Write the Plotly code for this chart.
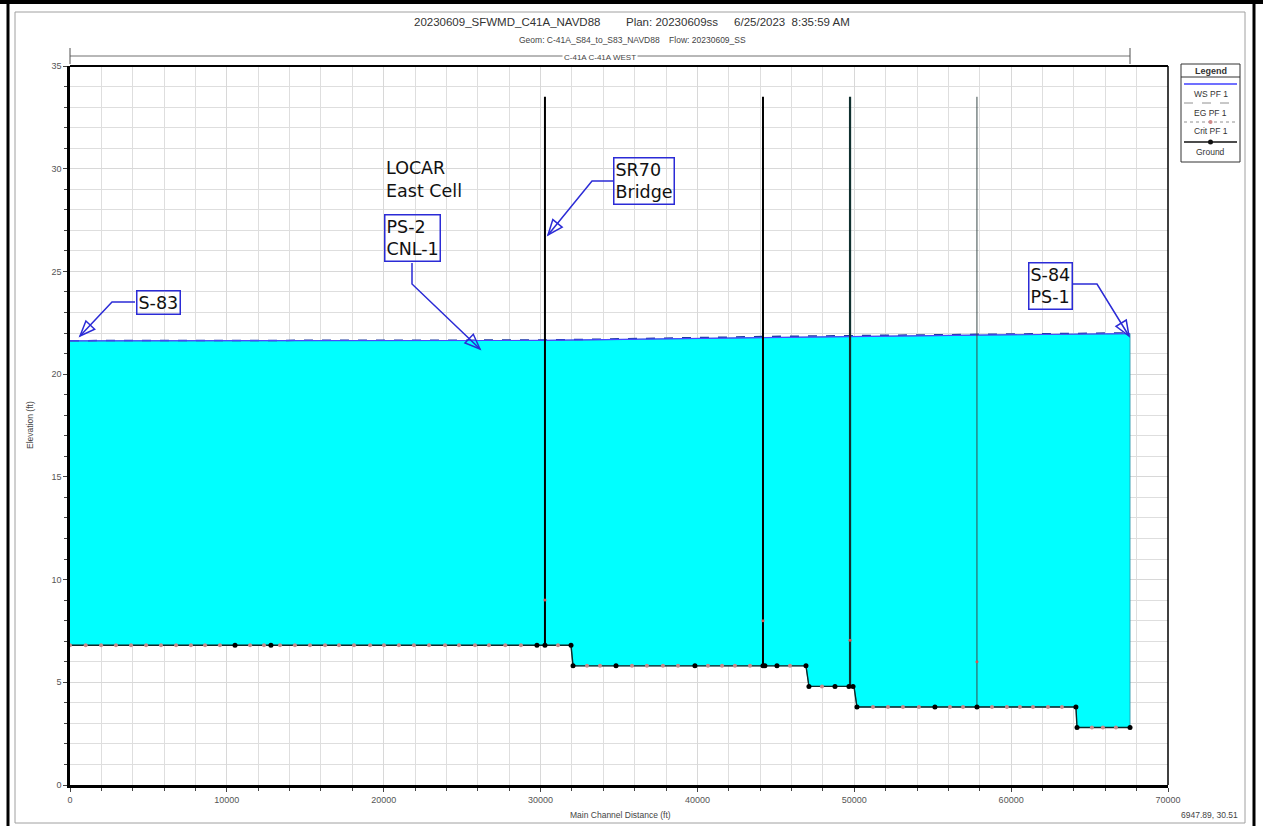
import plotly.graph_objects as go

# ---------------- data ----------------
x_ticks = [0, 10000, 20000, 30000, 40000, 50000, 60000, 70000]
y_ticks = [0, 5, 10, 15, 20, 25, 30, 35]

ws_station = [0, 30280, 44180, 49730, 57820, 67580]
ws_elev = [21.62, 21.64, 21.78, 21.84, 21.90, 21.97]
eg_elev = [21.63, 21.66, 21.83, 21.88, 21.94, 22.01]

ground_station = [0, 31940, 32070, 46920, 47110, 49980, 50170, 64130, 64200, 67580]
ground_elev = [6.8, 6.8, 5.8, 5.8, 4.8, 4.8, 3.8, 3.8, 2.8, 2.8]

xs_station = [10520, 12810, 29770, 30280, 31940,
              32070, 34810, 39840, 44180, 44300, 45070, 46920,
              47110, 48770, 49660, 49920,
              50170, 55140, 57820, 64130,
              64200, 67580]
xs_elev = [6.8, 6.8, 6.8, 6.8, 6.8,
           5.8, 5.8, 5.8, 5.8, 5.8, 5.8, 5.8,
           4.8, 4.8, 4.8, 4.8,
           3.8, 3.8, 3.8, 3.8,
           2.8, 2.8]

crit_levels = [6.8, 5.8, 4.8, 3.8, 2.8]
crit_x_68 = [0, 1000, 1980, 2930, 3890, 4850, 5800, 6760, 7710, 8610, 9560, 11480,
             12370, 13390, 14340, 15300, 16260, 17150, 18110, 19130, 20020, 20970,
             21930, 22890, 23910, 24800, 25820, 26710, 27750, 28750, 31110]
crit_x_58 = [32960, 33790, 35830, 36780, 37800, 38760, 40670, 41570, 42390, 43350, 45900]
crit_x_48 = [47940]
crit_x_38 = [51190, 52150, 53100, 54120, 56100, 56930, 58780, 59730, 60560, 61390, 62350, 63240]
crit_x_28 = [65150, 65850, 66680]

struct_station = [30280, 44180, 49730, 57820]
struct_base = [6.8, 5.8, 4.8, 3.8]
struct_top = [33.5, 33.5, 33.5, 33.5]
struct_mark = [9.0, 8.0, 7.05, 6.0]

# ---------------- layout helpers (pixel -> paper) ----------------
W, H = 1263, 826
L, R, T, B = 70, 1168, 66, 785


def PX(px):
    return (px - L) / (R - L)


def PY(py):
    return (B - py) / (B - T)


BLUE = "#2b2bd6"
FONT = "Liberation Sans"
CALL_FONT = "DejaVu Sans"

fig = go.Figure()

# water fill
fig.add_trace(go.Scatter(
    x=ws_station + ground_station[::-1],
    y=ws_elev + ground_elev[::-1],
    mode="lines", fill="toself", fillcolor="#00ffff",
    line=dict(color="#2a8fa8", width=0.8), hoverinfo="skip", showlegend=False))

# EG line
fig.add_trace(go.Scatter(x=ws_station, y=eg_elev, mode="lines",
                         line=dict(color="#1f3a9e", width=1.5, dash="dash"),
                         showlegend=False))
# WS line
fig.add_trace(go.Scatter(x=ws_station, y=ws_elev, mode="lines",
                         line=dict(color="#4a4aff", width=1.2), showlegend=False))

# structures
st_colors = ["#000000", "#000000", "#10302f", "#3a4a4a"]
st_widths = [2.0, 2.0, 2.2, 1.0]
for i in range(len(struct_station)):
    fig.add_trace(go.Scatter(x=[struct_station[i], struct_station[i]],
                             y=[struct_base[i], struct_top[i]], mode="lines",
                             line=dict(color=st_colors[i], width=st_widths[i]),
                             showlegend=False))
fig.add_trace(go.Scatter(x=struct_station, y=struct_mark, mode="markers",
                         marker=dict(color="#e05050", size=3), showlegend=False))

# ground line
fig.add_trace(go.Scatter(x=ground_station, y=ground_elev, mode="lines",
                         line=dict(color="#0c2a2a", width=1.4), showlegend=False))

# crit markers
cx, cy = [], []
for lev, xs in zip(crit_levels, [crit_x_68, crit_x_58, crit_x_48, crit_x_38, crit_x_28]):
    cx += xs
    cy += [lev] * len(xs)
fig.add_trace(go.Scatter(x=cx, y=cy, mode="markers",
                         marker=dict(color="#c98a8a", size=4), showlegend=False))

# ground cross-section markers
fig.add_trace(go.Scatter(x=xs_station, y=xs_elev, mode="markers",
                         marker=dict(color="#000000", size=5, symbol="circle"),
                         showlegend=False))

shapes = []
annotations = []


def note(px, py, text, size, color="#333", family=FONT, xanchor="center", **kw):
    d = dict(xref="paper", yref="paper", x=PX(px), y=PY(py), text=text,
             showarrow=False, xanchor=xanchor, yanchor="middle",
             font=dict(family=family, size=size, color=color))
    d.update(kw)
    annotations.append(d)


# outer frames
shapes.append(dict(type="rect", xref="paper", yref="paper",
                   x0=PX(15), x1=PX(1245), y0=PY(823), y1=PY(12),
                   line=dict(color="#a0a0a0", width=1)))
shapes.append(dict(type="line", xref="paper", yref="paper",
                   x0=PX(8), x1=PX(8), y0=PY(826), y1=PY(0),
                   line=dict(color="black", width=3)))
shapes.append(dict(type="line", xref="paper", yref="paper",
                   x0=PX(0), x1=PX(1263), y0=PY(2), y1=PY(2),
                   line=dict(color="black", width=4)))
shapes.append(dict(type="line", xref="paper", yref="paper",
                   x0=PX(1254), x1=PX(1254), y0=PY(826), y1=PY(0),
                   line=dict(color="black", width=3)))

# plot frame top / right
shapes.append(dict(type="line", xref="paper", yref="paper", x0=0, x1=1, y0=1, y1=1,
                   line=dict(color="black", width=1.8)))
shapes.append(dict(type="line", xref="paper", yref="paper", x0=1, x1=1, y0=0, y1=1,
                   line=dict(color="black", width=1.5)))

# reach bar
shapes.append(dict(type="line", xref="paper", yref="paper",
                   x0=PX(70), x1=PX(1130), y0=PY(56), y1=PY(56),
                   line=dict(color="#707070", width=1)))
for ex in (70, 1130):
    shapes.append(dict(type="line", xref="paper", yref="paper",
                       x0=PX(ex), x1=PX(ex), y0=PY(48), y1=PY(64),
                       line=dict(color="#505050", width=1)))
note(600, 57, "C-41A C-41A WEST", 8, color="#444", bgcolor="white", borderpad=1)

# titles
nb = "\u00a0"
note(632, 22, "20230609_SFWMD_C41A_NAVD88" + nb * 8 + "Plan: 20230609ss" + nb * 5
     + "6/25/2023" + nb * 2 + "8:35:59 AM", 11.5)
note(632, 40, "Geom: C-41A_S84_to_S83_NAVD88" + nb * 4 + "Flow: 20230609_SS", 8.5, color="#444")

# axis titles & coordinates
note(620, 815, "Main Channel Distance (ft)", 8.5, color="#444")
note(30, 425, "Elevation (ft)", 8.5, color="#444", textangle=-90)
note(1240, 815, "6947.89, 30.51", 8.5, color="#444", xanchor="right")

# legend box
shapes.append(dict(type="rect", xref="paper", yref="paper",
                   x0=PX(1181), x1=PX(1240), y0=PY(162), y1=PY(64),
                   line=dict(color="#333", width=1)))
shapes.append(dict(type="line", xref="paper", yref="paper",
                   x0=PX(1181), x1=PX(1240), y0=PY(77), y1=PY(77),
                   line=dict(color="#333", width=1)))
note(1210.5, 71, "<b>Legend</b>", 9)
leg_items = [("WS PF 1", 84, 94, dict(color="#7070ff", width=2)),
             ("EG PF 1", 103, 113, dict(color="#909090", width=1, dash="dash")),
             ("Crit PF 1", 122, 131, dict(color="#909090", width=1, dash="dot")),
             ("Ground", 142, 152, dict(color="#111", width=1.5))]
for name, ly, ty, ls in leg_items:
    shapes.append(dict(type="line", xref="paper", yref="paper",
                       x0=PX(1184), x1=PX(1237), y0=PY(ly), y1=PY(ly), line=ls))
    note(1210.5, ty, name, 8.5)
shapes.append(dict(type="circle", xref="paper", yref="paper",
                   x0=PX(1208), x1=PX(1213), y0=PY(144.5), y1=PY(139.5),
                   fillcolor="#111", line=dict(color="#111", width=0)))
shapes.append(dict(type="circle", xref="paper", yref="paper",
                   x0=PX(1208.5), x1=PX(1212.5), y0=PY(124), y1=PY(120),
                   fillcolor="#d08a8a", line=dict(color="#d08a8a", width=0)))

# callouts
callouts = [
    ("S-83", (135, 290, 181, 315), [(135, 302), (112, 302), (80, 336)]),
    ("PS-2<br>CNL-1", (383, 213, 442, 263), [(412, 263), (412, 284), (480, 349)]),
    ("SR70<br>Bridge", (613, 156, 675, 205), [(613, 181), (592, 181), (548, 235)]),
    ("S-84<br>PS-1", (1027, 261, 1073, 310), [(1073, 284), (1097, 284), (1129, 336)]),
]
for text, (bx0, by0, bx1, by1), pts in callouts:
    note((bx0 + bx1) / 2, (by0 + by1) / 2, text, 17.5, color="#111", family=CALL_FONT,
         align="left", bordercolor=BLUE, borderwidth=1.5, borderpad=1,
         bgcolor="rgba(255,255,255,0)")
    path = "M " + " L ".join(f"{PX(x)},{PY(y)}" for x, y in pts)
    shapes.append(dict(type="path", xref="paper", yref="paper", path=path,
                       line=dict(color=BLUE, width=1.5)))
    (x1, y1), (x2, y2) = pts[-2], pts[-1]
    dx, dy = x2 - x1, y2 - y1
    n = (dx * dx + dy * dy) ** 0.5
    ux, uy = dx / n, dy / n
    ln, hw = 15, 6
    bx, by = x2 - ux * ln, y2 - uy * ln
    c1 = (bx - uy * hw, by + ux * hw)
    c2 = (bx + uy * hw, by - ux * hw)
    tri = f"M {PX(x2)},{PY(y2)} L {PX(c1[0])},{PY(c1[1])} L {PX(c2[0])},{PY(c2[1])} Z"
    shapes.append(dict(type="path", xref="paper", yref="paper", path=tri,
                       line=dict(color=BLUE, width=1.5), fillcolor="rgba(0,0,0,0)"))

# LOCAR label
note(384, 179, "LOCAR<br>East Cell", 17.5, color="#111", family=CALL_FONT,
     xanchor="left", align="left")

fig.update_layout(
    width=W, height=H,
    margin=dict(l=L, r=W - R, t=T, b=H - B),
    paper_bgcolor="white", plot_bgcolor="white",
    showlegend=False,
    shapes=shapes, annotations=annotations,
    xaxis=dict(range=[x_ticks[0], x_ticks[-1]], tickvals=x_ticks, tickformat="d",
               showgrid=True, gridcolor="#d8d8d8", gridwidth=1,
               ticks="outside", ticklen=4, tickcolor="#444",
               showline=True, linecolor="black", linewidth=2.5, zeroline=False,
               tickfont=dict(family=FONT, size=9, color="#555"),
               minor=dict(dtick=2000, tick0=0, ticks="outside", ticklen=3,
                          tickcolor="#444", showgrid=True, gridcolor="#dedede")),
    yaxis=dict(range=[y_ticks[0], y_ticks[-1]], tickvals=y_ticks,
               showgrid=True, gridcolor="#d8d8d8", gridwidth=1,
               ticks="outside", ticklen=4, tickcolor="#444",
               showline=True, linecolor="black", linewidth=2.5, zeroline=False,
               tickfont=dict(family=FONT, size=9, color="#555"),
               minor=dict(dtick=1, tick0=0, ticks="outside", ticklen=3,
                          tickcolor="#444", showgrid=True, gridcolor="#dedede")),
)

fig.write_html("out.html", config={"displayModeBar": False},
               post_script="document.body.style.margin='0px';")
